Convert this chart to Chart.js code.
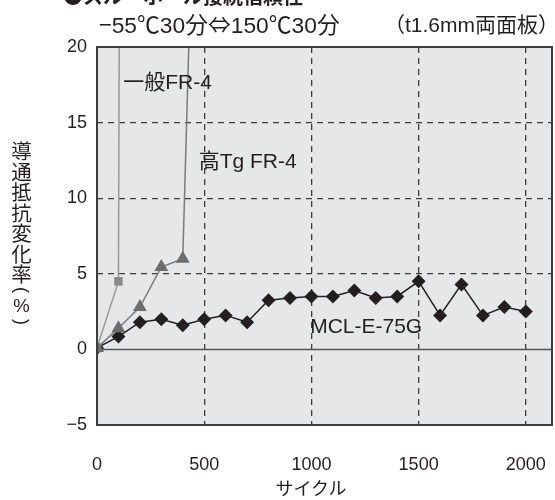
<!DOCTYPE html>
<html>
<head>
<meta charset="utf-8">
<script src="https://cdn.jsdelivr.net/npm/chart.js@4/dist/chart.umd.min.js"></script>
<style>
  html, body { margin: 0; padding: 0; background: #fff; }
  #wrap { position: relative; width: 555px; height: 500px; overflow: hidden; font-family: "Liberation Sans", "Noto Sans CJK JP", sans-serif; color: #231f20; }
  #c { position: absolute; left: 0; top: 0; }
  .t { position: absolute; white-space: nowrap; line-height: 1; }
  .cjk { font-family: "Noto Sans CJK JP", sans-serif; }
  #title { left: 63px; top: -14px; font-size: 20px; font-weight: bold; font-family: "Noto Sans CJK JP", sans-serif; }
  #sub1 { left: 99px; top: 13px; font-size: 22.8px; }
  #sub2 { right: -4px; top: 14px; font-size: 21px; }
  #ytitle { left: 11px; top: 140px; font-size: 20.5px; font-family: "Noto Sans CJK JP", sans-serif; display: flex; flex-direction: column; align-items: center; width: 21px; }
  #ytitle span { display: block; line-height: 20.5px; height: 20.5px; }
  #ytitle span.r { transform: rotate(90deg); height: 12px; line-height: 12px; font-family: "Liberation Sans", sans-serif; font-size: 18px; }
  #ytitle span.p { font-family: "Liberation Sans", sans-serif; font-size: 18.5px; height: 20px; line-height: 20px; }
  #xtitle { left: 311px; top: 478px; transform: translateX(-50%); font-size: 18px; font-family: "Noto Sans CJK JP", sans-serif; }
</style>
</head>
<body>
<div id="wrap">
  <canvas id="c" width="560" height="500"></canvas>
  <div class="t" id="title">●スルーホール接続信頼性</div>
  <div class="t" id="sub1"><span class="cjk">−</span>55<span class="cjk">℃</span>30<span class="cjk">分⇔</span>150<span class="cjk">℃</span>30<span class="cjk">分</span></div>
  <div class="t" id="sub2">（t1.6mm両面板）</div>
  <div class="t" id="ytitle"><span>導</span><span>通</span><span>抵</span><span>抗</span><span>変</span><span>化</span><span>率</span><span class="r">(</span><span class="p">%</span><span class="r">)</span></div>
  <div class="t" id="xtitle">サイクル</div>
</div>
<script>
// ---- data ----
const mclCycles = [0,100,200,300,400,500,600,700,800,900,1000,1100,1200,1300,1400,1500,1600,1700,1800,1900,2000];
const mclValues = [0.1,0.85,1.8,2.0,1.6,2.0,2.25,1.8,3.25,3.4,3.5,3.5,3.9,3.4,3.5,4.5,2.25,4.3,2.25,2.8,2.5];
const fr4Cycles = [0,100,104];
const fr4Values = [0.1,4.5,22];
const hiTgCycles = [0,100,200,300,400,432];
const hiTgValues = [0.1,1.4,2.8,5.45,6.0,22];
const xTickValues = [0,500,1000,1500,2000];
const yTickValues = [-5,0,5,10,15,20];
const seriesNames = ['高Tg FR-4','一般FR-4','MCL-E-75G'];
const labelAnchorsX = [474,122,994];
const labelAnchorsY = [12.4,17.6,1.5];

function pts(xs, ys){ return xs.map((x,i)=>({x:x, y:ys[i]})); }

const frame = {
  id: 'frame',
  beforeDraw(chart){
    const {ctx, chartArea:a} = chart;
    ctx.save();
    ctx.fillStyle = '#e6e7e8';
    ctx.fillRect(a.left, a.top, a.right-a.left, a.bottom-a.top);
    ctx.restore();
  },
  beforeDatasetsDraw(chart){
    const {ctx, chartArea:a, scales} = chart;
    const y0 = scales.y.getPixelForValue(0);
    ctx.save();
    ctx.strokeStyle = '#555';
    ctx.lineWidth = 1.5;
    ctx.beginPath(); ctx.moveTo(a.left, y0); ctx.lineTo(a.right, y0); ctx.stroke();
    ctx.restore();
  },
  afterDatasetsDraw(chart){
    const {ctx, chartArea:a, scales} = chart;
    ctx.save();
    ctx.strokeStyle = '#3c3c3c';
    ctx.lineWidth = 2;
    ctx.strokeRect(a.left, a.top, a.right-a.left, a.bottom-a.top);
    ctx.fillStyle = '#231f20';
    ctx.font = '21px "Liberation Sans", "Noto Sans CJK JP", sans-serif';
    ctx.textBaseline = 'middle';
    ctx.textAlign = 'left';
    seriesNames.forEach((n,i)=>{
      ctx.fillText(n, scales.x.getPixelForValue(labelAnchorsX[i]), scales.y.getPixelForValue(labelAnchorsY[i]));
    });
    ctx.restore();
  }
};

const gridColor = (ctx) => {
  const v = ctx.tick ? ctx.tick.value : null;
  if (ctx.scale.axis === 'y' && (v === 0 || v === 20 || v === -5)) return 'rgba(0,0,0,0)';
  if (ctx.scale.axis === 'x' && v === 0) return 'rgba(0,0,0,0)';
  return '#3c3c3c';
};

new Chart(document.getElementById('c'), {
  type: 'line',
  data: {
    datasets: [
      { label: seriesNames[0], data: pts(hiTgCycles, hiTgValues), borderColor: '#7a7a7a', backgroundColor: '#6d6d6d', borderWidth: 1.5,
        pointStyle: 'triangle', pointRadius: hiTgValues.map(v => v > 20 ? 0 : 8), pointBorderWidth: 0, tension: 0 },
      { label: seriesNames[1], data: pts(fr4Cycles, fr4Values), borderColor: '#999', backgroundColor: '#8a8a8a', borderWidth: 1.5,
        pointStyle: 'rect', pointRadius: fr4Values.map(v => v > 20 ? 0 : 6), pointBorderWidth: 0, tension: 0 },
      { label: seriesNames[2], data: pts(mclCycles, mclValues), borderColor: '#231f20', backgroundColor: '#231f20', borderWidth: 1.5,
        pointStyle: 'rectRot', pointRadius: 7, pointBorderWidth: 0, tension: 0 }
    ]
  },
  options: {
    responsive: false,
    animation: false,
    devicePixelRatio: 1,
    layout: { padding: { left: 0, top: 47, right: 0, bottom: 0 } },
    plugins: { legend: { display: false }, tooltip: { enabled: false } },
    scales: {
      x: {
        type: 'linear', min: 0, max: 2122,
        afterBuildTicks: (s) => { s.ticks = xTickValues.map(v => ({value: v})); },
        afterFit: (s) => { s.height = 75; s.paddingLeft = 0; s.paddingRight = 0; },
        ticks: { color: '#231f20', font: { size: 18, family: '"Liberation Sans", sans-serif' }, padding: 29, maxRotation: 0,
          callback: (v) => String(v) },
        grid: { color: gridColor, lineWidth: 1.3, drawTicks: false },
        border: { display: false, dash: [6,5] }
      },
      y: {
        type: 'linear', min: -5, max: 20,
        afterBuildTicks: (s) => { s.ticks = yTickValues.map(v => ({value: v})); },
        afterFit: (s) => { s.width = 97; s.paddingTop = 0; s.paddingBottom = 0; },
        ticks: { color: '#231f20', font: { size: 18, family: '"Liberation Sans", sans-serif' }, padding: 10,
          callback: (v) => v < 0 ? '−' + Math.abs(v) : String(v) },
        grid: { color: gridColor, lineWidth: 1.3, drawTicks: false },
        border: { display: false, dash: [6,5] }
      }
    }
  },
  plugins: [frame]
});
</script>
</body>
</html>
